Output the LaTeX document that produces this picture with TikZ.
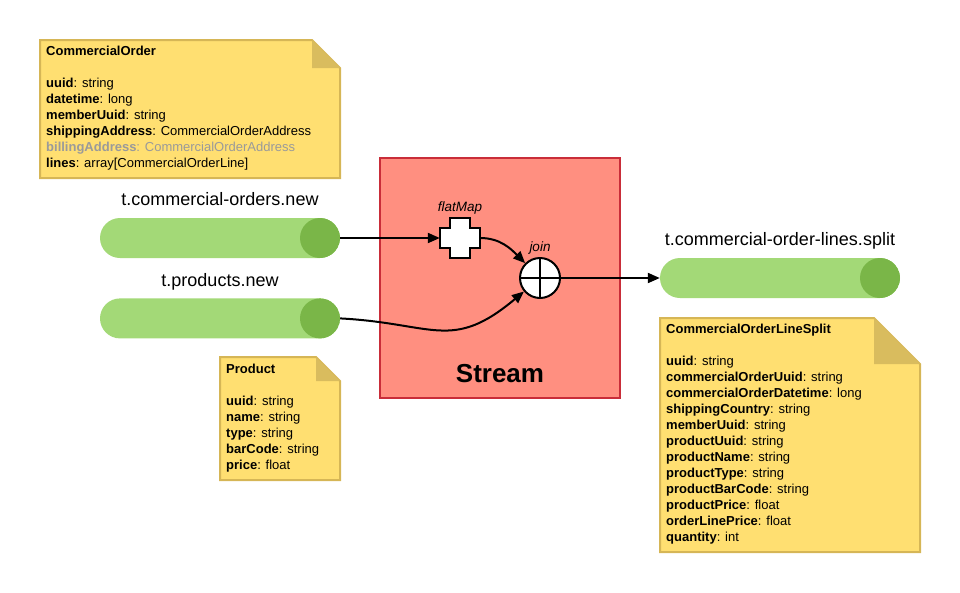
\documentclass[tikz,border=0pt]{standalone}
\usepackage{fontspec}
\setmainfont{Liberation Sans}
\usetikzlibrary{arrows.meta,positioning}

\definecolor{notefill}{HTML}{FFDF71}
\definecolor{noteline}{HTML}{D6B656}
\definecolor{notefold}{HTML}{D9BC5E}
\definecolor{notegray}{HTML}{9A9A9A}
\definecolor{topicgreen}{HTML}{A3D977}
\definecolor{topicdark}{HTML}{7AB648}
\definecolor{streamfill}{HTML}{FF8F80}
\definecolor{streamline}{HTML}{C92D39}

\begin{document}
\begin{tikzpicture}[x=1pt, y=-1pt, >={Triangle[length=12pt,width=10pt]},
	topic/.style={rectangle, rounded corners=20pt, minimum width=240pt, minimum height=40pt, inner sep=0pt, fill=topicgreen,
		path picture={\fill[topicdark] ([xshift=-20pt]path picture bounding box.east) circle[radius=20pt];}},
	topiclabel/.style={font=\fontsize{18}{20}\selectfont, inner sep=0pt, text depth=0pt},
	notetext/.style={anchor=north west, inner sep=0pt, align=left, font=\fontsize{13}{16}\selectfont},
	op/.style={line width=2pt, draw=black, fill=white},
	oplabel/.style={font=\fontsize{13.5}{14}\selectfont\itshape, inner sep=0pt},
	flow/.style={->, line width=2pt}]
	\useasboundingbox (0,0) rectangle (960,592);

	\fill[notefill, draw=noteline, line width=2pt] (40,40) -- (312,40) -- (340,68) -- (340,178) -- (40,178) -- cycle;
	\fill[notefold] (312,40) -- (340,68) -- (312,68) -- cycle;
	\node[notetext] (ordernote) at (46,46) {\textbf{CommercialOrder}\\[16pt]
		\textbf{uuid}: string\\
		\textbf{datetime}: long\\
		\textbf{memberUuid}: string\\
		\textbf{shippingAddress}: CommercialOrderAddress\\
		{\color{notegray}\textbf{billingAddress}: CommercialOrderAddress}\\
		\textbf{lines}: array[CommercialOrderLine]};

	\node[topic] (ordertopic) at (220,238) {};
	\node[topic] (producttopic) [below=40pt of ordertopic] {};
	\node[topiclabel, above=12pt of ordertopic]   (orderlabel)   {t.commercial-orders.new};
	\node[topiclabel, above=12pt of producttopic] (productlabel) {t.products.new};

	\fill[notefill, draw=noteline, line width=2pt] (220,357) -- (316,357) -- (340,381) -- (340,480) -- (220,480) -- cycle;
	\fill[notefold] (316,357) -- (340,381) -- (316,381) -- cycle;
	\node[notetext] (productnote) at (226,363.5) {\textbf{Product}\\[16pt]
		\textbf{uuid}: string\\
		\textbf{name}: string\\
		\textbf{type}: string\\
		\textbf{barCode}: string\\
		\textbf{price}: float};

	\node[draw=streamline, fill=streamfill, line width=2pt, minimum width=240pt, minimum height=240pt] (stream) at (500,277.5) {};
	\node[font=\fontsize{26}{30}\selectfont\bfseries, anchor=base] (streamlabel) at ([yshift=16pt]stream.south) {Stream};

	\node[minimum size=40pt, inner sep=0pt] (flatmap) at (460,238) {};
	\draw[op, shift={(flatmap.center)}] (-10,-20) -- (10,-20) -- (10,-10) -- (20,-10) -- (20,10) -- (10,10)
		-- (10,20) -- (-10,20) -- (-10,10) -- (-20,10) -- (-20,-10) -- (-10,-10) -- cycle;
	\node[oplabel, above=3pt of flatmap] (flatmaplabel) {flatMap};

	\node[op, circle, minimum size=40pt, inner sep=0pt] (join) at (540,278) {};
	\draw[line width=2pt] (join.north) -- (join.south) (join.west) -- (join.east);
	\node[oplabel, above=3pt of join] (joinlabel) {join};

	\node[topic] (splittopic) at (780,278) {};
	\node[topiclabel, above=12pt of splittopic] (splitlabel) {t.commercial-order-lines.split};

	\draw[flow] (ordertopic.east) -- (flatmap.west);
	\draw[flow] (flatmap.east) to[out=0, in=135] (join.north west);
	\draw[flow] (producttopic.east) to[out=-3, in=220, looseness=1.3] (join.220);
	\draw[flow] (join.east) -- (splittopic.west);

	\fill[notefill, draw=noteline, line width=2pt] (660,318) -- (874,318) -- (920,364) -- (920,552) -- (660,552) -- cycle;
	\fill[notefold] (874,318) -- (920,364) -- (874,364) -- cycle;
	\node[notetext] (splitnote) at (666,324) {\textbf{CommercialOrderLineSplit}\\[16pt]
		\textbf{uuid}: string\\
		\textbf{commercialOrderUuid}: string\\
		\textbf{commercialOrderDatetime}: long\\
		\textbf{shippingCountry}: string\\
		\textbf{memberUuid}: string\\
		\textbf{productUuid}: string\\
		\textbf{productName}: string\\
		\textbf{productType}: string\\
		\textbf{productBarCode}: string\\
		\textbf{productPrice}: float\\
		\textbf{orderLinePrice}: float\\
		\textbf{quantity}: int};
\end{tikzpicture}
\end{document}
